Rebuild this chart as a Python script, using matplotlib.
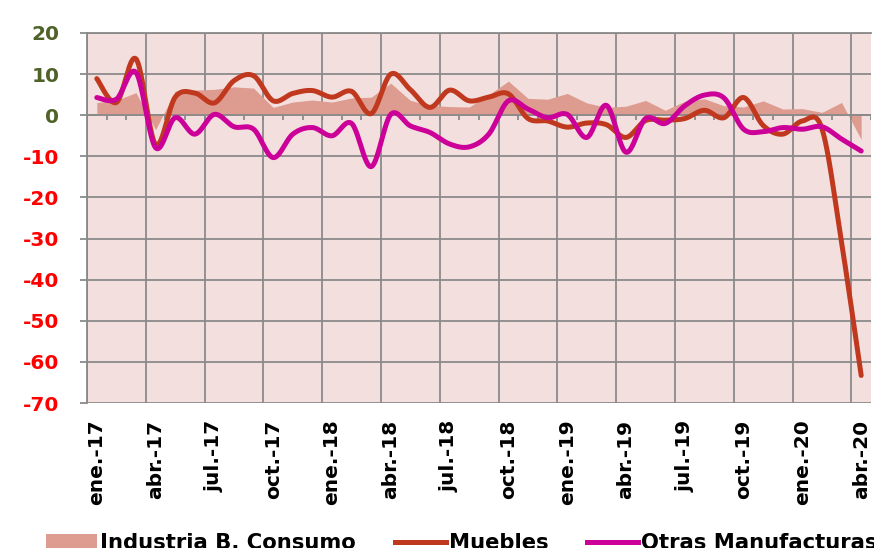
import numpy as np
import matplotlib
matplotlib.use("Agg")
import matplotlib.pyplot as plt
from matplotlib.lines import Line2D
from matplotlib.patches import Patch

# monthly series ene-17 .. abr-20
months = ['ene.', 'feb.', 'mar.', 'abr.', 'may.', 'jun.', 'jul.', 'ago.',
          'sep.', 'oct.', 'nov.', 'dic.']
years = ['17', '18', '19', '20']
labels = [m + '-' + y for y in years for m in months][:40]

industria = [3.1, 3.6, 5.5, -3.5, 5.9, 6.1, 6.3, 6.9, 6.6, 1.9, 3.2, 3.7,
             3.2, 4.2, 4.4, 7.8, 3.6, 2.4, 2.1, 2.0, 5.0, 8.3, 4.1, 3.9,
             5.3, 3.0, 1.9, 2.2, 3.6, 1.2, 3.4, 4.0, 2.3, 2.0, 3.5, 1.5,
             1.6, 0.7, 3.1, -5.9]
muebles = [8.9, 3.1, 13.7, -7.1, 4.4, 5.4, 3.0, 8.4, 9.6, 3.5, 5.3, 6.0,
           4.4, 5.8, 0.4, 10.0, 6.2, 1.9, 6.1, 3.5, 4.4, 5.2, -0.8, -1.4,
           -2.9, -1.9, -2.3, -5.4, -1.3, -1.2, -0.8, 1.2, -0.6, 4.3, -2.5, -4.6,
           -1.4, -3.3, -31.0, -63.3]
otras = [4.3, 3.9, 10.4, -7.9, -0.6, -4.6, 0.2, -2.8, -3.4, -10.3, -4.6, -3.0,
         -5.0, -2.0, -12.5, 0.2, -2.6, -4.2, -7.0, -7.7, -4.6, 3.5, 1.5, -0.6,
         0.2, -5.4, 2.4, -9.0, -0.8, -2.0, 2.3, 4.9, 4.2, -3.4, -4.0, -3.0,
         -3.4, -2.8, -5.8, -8.7]


def smooth(y, n=24):
    # excel-like smoothed line (catmull-rom bezier)
    p = np.column_stack([np.arange(len(y)), np.asarray(y, float)])
    out = []
    for i in range(len(p) - 1):
        p0 = p[i - 1] if i > 0 else p[i]
        p3 = p[i + 2] if i + 2 < len(p) else p[i + 1]
        c1 = p[i] + (p[i + 1] - p0) / 6.0
        c2 = p[i + 1] - (p3 - p[i]) / 6.0
        t = np.linspace(0, 1, n)[:, None]
        seg = ((1 - t) ** 3) * p[i] + 3 * ((1 - t) ** 2) * t * c1 + 3 * (1 - t) * t ** 2 * c2 + t ** 3 * p[i + 1]
        out.append(seg if i == 0 else seg[1:])
    out = np.vstack(out)
    return out[:, 0], out[:, 1]


bg = '#F3E0DE'
c_area = '#DE9C90'
c_mueb = '#C0391F'
c_otras = '#CC0099'
grid_c = '#8A8A8A'

fig = plt.figure(figsize=(8.74, 5.48), dpi=100)
ax = fig.add_axes([87 / 874, 1 - 403 / 548, 784 / 874, 370 / 548])
ax.set_facecolor(bg)

x = np.arange(len(labels))
ax.fill_between(x, 0, industria, color=c_area, lw=0, zorder=2)
mx, my = smooth(muebles)
ax.plot(mx, my, color=c_mueb, lw=3.6, solid_capstyle='round', zorder=4)
ox, oy = smooth(otras)
ax.plot(ox, oy, color=c_otras, lw=3.6, solid_capstyle='round', zorder=5)

ax.set_xlim(-0.5, len(labels) - 0.5)
ax.set_ylim(-70, 20)

# grid
yt = np.arange(-70, 21, 10)
for v in yt:
    ax.axhline(v, color=grid_c, lw=1.3, zorder=1)
for b in np.arange(-0.5, len(labels), 3):
    ax.axvline(b, color=grid_c, lw=1.3, zorder=1)
# zero axis with small ticks
ax.axhline(0, color=grid_c, lw=1.3, zorder=3)
ax.vlines(np.arange(0.5, len(labels)), -1.1, 0, color=grid_c, lw=1.3, zorder=3)

for s in ['right', 'bottom']:
    ax.spines[s].set_visible(False)
for s in ['left', 'top']:
    ax.spines[s].set_color(grid_c)
    ax.spines[s].set_linewidth(1.3)

ax.set_yticks(yt)
ax.set_yticklabels([str(v) for v in yt], fontsize=14.5, fontweight='bold')
for lab, v in zip(ax.get_yticklabels(), yt):
    lab.set_color('#4F6228' if v >= 0 else '#FF0000')
ax.tick_params(axis='y', length=5, width=1.3, color=grid_c, pad=15)

ax.set_xticks(x[::3])
ax.set_xticklabels(labels[::3], rotation=90, fontsize=14.5, fontweight='bold')
ax.tick_params(axis='x', length=0, pad=12)

handles = [Patch(facecolor=c_area, edgecolor='none'),
           Line2D([], [], color=c_mueb, lw=3.6),
           Line2D([], [], color=c_otras, lw=3.6)]
fig.legend(handles, ['Industria B. Consumo', 'Muebles', 'Otras Manufacturas'],
           loc='center left', bbox_to_anchor=(0.053, 1 - 543 / 548), ncol=3,
           frameon=False, prop={'size': 15.2, 'weight': 'bold'},
           handlelength=2.4, handletextpad=0.15, columnspacing=1.85,
           borderaxespad=0, borderpad=0)

fig.savefig('out.png', dpi=100)
